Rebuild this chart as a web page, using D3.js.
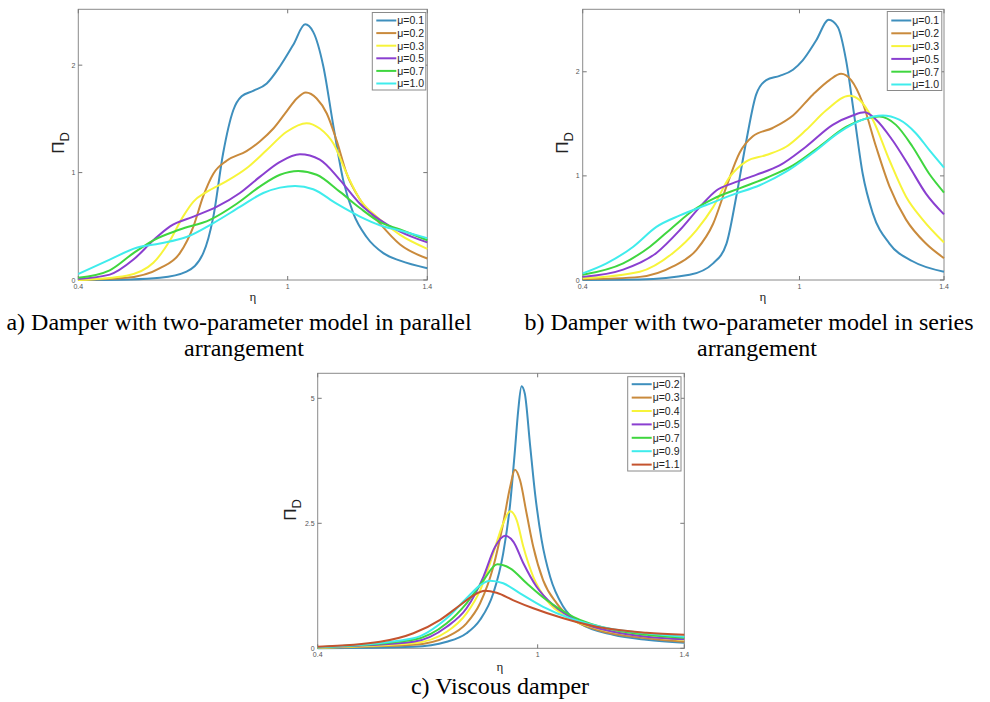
<!DOCTYPE html>
<html>
<head>
<meta charset="utf-8">
<script src="https://cdn.jsdelivr.net/npm/d3@7"></script>
<style>
  html, body { margin: 0; padding: 0; background: #fff; }
  svg { display: block; }
</style>
</head>
<body>
<svg id="chart" width="990" height="702"></svg>
<script>
// ---------------- DATA ----------------
const xTicks = [0.4, 1, 1.4];
const xTickLabels = ["0.4", "1", "1.4"];

// Panel a: parallel arrangement
const legendA = ["μ=0.1", "μ=0.2", "μ=0.3", "μ=0.5", "μ=0.7", "μ=1.0"];
const yTicksA = [0, 1, 2];
const a_mu01 = [[0.4,0],[0.55,0.005],[0.634,0.02],[0.71,0.078],[0.758,0.25],[0.787,0.59],[0.815,1.18],[0.844,1.58],[0.868,1.71],[0.901,1.76],[0.94,1.83],[0.978,1.99],[1.016,2.19],[1.05,2.38],[1.073,2.31],[1.102,1.99],[1.131,1.43],[1.159,0.93],[1.188,0.62],[1.226,0.40],[1.274,0.25],[1.322,0.18],[1.4,0.11]];
const a_mu02 = [[0.4,0],[0.538,0.02],[0.634,0.11],[0.691,0.25],[0.73,0.50],[0.758,0.78],[0.787,0.99],[0.825,1.11],[0.882,1.20],[0.92,1.29],[0.959,1.41],[0.997,1.57],[1.026,1.69],[1.052,1.745],[1.083,1.69],[1.112,1.55],[1.14,1.30],[1.169,0.99],[1.207,0.75],[1.255,0.56],[1.322,0.33],[1.4,0.2]];
const a_mu03 = [[0.4,0],[0.538,0.04],[0.615,0.16],[0.663,0.37],[0.7,0.59],[0.73,0.73],[0.768,0.82],[0.825,0.92],[0.882,1.04],[0.94,1.21],[0.997,1.38],[1.054,1.46],[1.092,1.41],[1.131,1.27],[1.169,0.99],[1.207,0.75],[1.255,0.59],[1.322,0.42],[1.4,0.29]];
const a_mu05 = [[0.4,0.01],[0.49,0.05],[0.558,0.19],[0.615,0.37],[0.663,0.50],[0.73,0.59],[0.796,0.68],[0.863,0.81],[0.92,0.96],[0.978,1.10],[1.035,1.17],[1.092,1.12],[1.15,0.93],[1.207,0.71],[1.264,0.56],[1.322,0.45],[1.4,0.35]];
const a_mu07 = [[0.4,0.02],[0.49,0.09],[0.558,0.25],[0.615,0.37],[0.691,0.47],[0.777,0.56],[0.854,0.71],[0.92,0.87],[0.978,0.98],[1.03,1.015],[1.083,0.98],[1.15,0.82],[1.207,0.67],[1.264,0.54],[1.322,0.47],[1.4,0.37]];
const a_mu10 = [[0.4,0.056],[0.49,0.19],[0.567,0.30],[0.634,0.34],[0.71,0.40],[0.787,0.53],[0.863,0.68],[0.93,0.81],[0.978,0.86],[1.021,0.876],[1.073,0.845],[1.14,0.71],[1.207,0.59],[1.264,0.51],[1.322,0.46],[1.4,0.39]];

// Panel b: series arrangement
const legendB = ["μ=0.1", "μ=0.2", "μ=0.3", "μ=0.5", "μ=0.7", "μ=1.0"];
const yTicksB = [0, 1, 2];
const b_mu01 = [[0.4,0],[0.558,0.005],[0.696,0.05],[0.761,0.16],[0.798,0.35],[0.825,0.80],[0.853,1.34],[0.88,1.78],[0.908,1.92],[0.945,1.96],[0.982,2.02],[1.009,2.11],[1.046,2.30],[1.081,2.50],[1.106,2.43],[1.129,2.11],[1.152,1.57],[1.175,1.02],[1.203,0.64],[1.249,0.35],[1.313,0.18],[1.4,0.08]];
const b_mu02 = [[0.4,0.006],[0.558,0.03],[0.65,0.13],[0.715,0.29],[0.761,0.54],[0.798,0.90],[0.834,1.22],[0.871,1.38],[0.926,1.46],[0.982,1.58],[1.037,1.78],[1.083,1.92],[1.115,1.98],[1.143,1.92],[1.175,1.70],[1.212,1.28],[1.249,0.90],[1.295,0.58],[1.35,0.35],[1.4,0.21]];
const b_mu03 = [[0.4,0.016],[0.558,0.08],[0.65,0.26],[0.715,0.48],[0.761,0.70],[0.807,0.99],[0.853,1.14],[0.908,1.20],[0.963,1.28],[1.018,1.44],[1.074,1.63],[1.138,1.77],[1.166,1.73],[1.203,1.54],[1.249,1.15],[1.295,0.80],[1.341,0.58],[1.4,0.36]];
const b_mu05 = [[0.4,0.03],[0.512,0.10],[0.604,0.26],[0.669,0.48],[0.724,0.70],[0.77,0.86],[0.816,0.93],[0.88,1.01],[0.945,1.10],[1.018,1.28],[1.092,1.49],[1.147,1.58],[1.18,1.61],[1.212,1.54],[1.258,1.34],[1.304,1.09],[1.35,0.83],[1.4,0.63]];
const b_mu07 = [[0.4,0.05],[0.512,0.16],[0.586,0.32],[0.65,0.51],[0.706,0.67],[0.761,0.78],[0.834,0.88],[0.908,0.98],[0.982,1.10],[1.055,1.28],[1.129,1.47],[1.184,1.55],[1.221,1.57],[1.267,1.49],[1.313,1.28],[1.359,1.02],[1.4,0.84]];
const b_mu10 = [[0.4,0.064],[0.466,0.16],[0.54,0.32],[0.604,0.51],[0.669,0.62],[0.742,0.72],[0.816,0.82],[0.89,0.91],[0.963,1.04],[1.037,1.22],[1.111,1.42],[1.175,1.54],[1.23,1.58],[1.276,1.54],[1.322,1.41],[1.359,1.25],[1.4,1.08]];

// Panel c: viscous damper
const legendC = ["μ=0.2", "μ=0.3", "μ=0.4", "μ=0.5", "μ=0.7", "μ=0.9", "μ=1.1"];
const yTicksC = [0, 2.5, 5];
const yTickLabelsC = ["0", "2.5", "5"];
const c_mu02 = [[0.4,0],[0.661,0.03],[0.752,0.13],[0.806,0.30],[0.843,0.57],[0.879,1.10],[0.906,1.90],[0.925,2.89],[0.938,3.96],[0.947,4.76],[0.956,5.24],[0.965,5.09],[0.979,4.09],[0.993,3.09],[1.011,2.16],[1.034,1.43],[1.07,0.83],[1.115,0.50],[1.206,0.27],[1.297,0.17],[1.4,0.11]];
const c_mu03 = [[0.4,0.01],[0.661,0.07],[0.752,0.23],[0.806,0.50],[0.843,0.90],[0.879,1.63],[0.906,2.50],[0.925,3.23],[0.938,3.57],[0.952,3.36],[0.97,2.69],[0.988,2.03],[1.015,1.36],[1.052,0.90],[1.097,0.57],[1.161,0.37],[1.297,0.20],[1.4,0.13]];
const c_mu04 = [[0.4,0.013],[0.661,0.10],[0.752,0.33],[0.806,0.70],[0.843,1.16],[0.879,1.90],[0.906,2.50],[0.925,2.74],[0.943,2.56],[0.961,2.03],[0.988,1.43],[1.025,0.96],[1.079,0.63],[1.161,0.40],[1.297,0.23],[1.4,0.17]];
const c_mu05 = [[0.4,0.02],[0.661,0.13],[0.752,0.43],[0.806,0.80],[0.852,1.43],[0.884,2.03],[0.911,2.25],[0.934,2.13],[0.961,1.70],[0.997,1.23],[1.043,0.86],[1.115,0.53],[1.206,0.33],[1.297,0.23],[1.4,0.18]];
const c_mu07 = [[0.4,0.02],[0.661,0.17],[0.752,0.50],[0.806,0.90],[0.852,1.36],[0.89,1.68],[0.925,1.60],[0.97,1.30],[1.025,0.96],[1.097,0.63],[1.206,0.37],[1.297,0.27],[1.4,0.21]];
const c_mu09 = [[0.4,0.02],[0.661,0.20],[0.752,0.60],[0.806,1.00],[0.843,1.26],[0.87,1.35],[0.906,1.30],[0.952,1.10],[1.015,0.83],[1.088,0.60],[1.206,0.38],[1.297,0.30],[1.4,0.23]];
const c_mu11 = [[0.4,0.03],[0.57,0.13],[0.661,0.30],[0.734,0.57],[0.788,0.86],[0.825,1.06],[0.856,1.15],[0.888,1.11],[0.934,0.96],[0.988,0.80],[1.07,0.60],[1.161,0.43],[1.297,0.31],[1.4,0.27]];

const captionA = ["a) Damper with two-parameter model in parallel", "arrangement"];
const captionB = ["b) Damper with two-parameter model in series", "arrangement"];
const captionC = ["c) Viscous damper"];

// ---------------- STYLE ----------------
const colors6 = ["#3e8fbd", "#c98a3c", "#f7f43a", "#8a3fd0", "#3fd63f", "#3fecec"];
const colors7 = ["#3e8fbd", "#c98a3c", "#f7f43a", "#8a3fd0", "#3fd63f", "#3fecec", "#c4532e"];

const svg = d3.select("#chart");

function drawPanel(cfg) {
  const g = svg.append("g");
  const x = d3.scaleLinear().domain([0.4, 1.4]).range([cfg.left, cfg.right]);
  const y = d3.scaleLinear().domain(cfg.yDomain).range([cfg.bottom, cfg.top]);

  // box
  g.append("rect")
    .attr("x", cfg.left).attr("y", cfg.top)
    .attr("width", cfg.right - cfg.left).attr("height", cfg.bottom - cfg.top)
    .attr("fill", "#fff").attr("stroke", "#8a8a8a").attr("stroke-width", 1);

  // ticks (inward, mirrored)
  const tl = 4;
  cfg.yTicks.forEach(t => {
    g.append("line").attr("x1", cfg.left).attr("x2", cfg.left + tl).attr("y1", y(t)).attr("y2", y(t)).attr("stroke", "#777");
    g.append("line").attr("x1", cfg.right).attr("x2", cfg.right - tl).attr("y1", y(t)).attr("y2", y(t)).attr("stroke", "#777");
  });
  xTicks.forEach(t => {
    g.append("line").attr("y1", cfg.bottom).attr("y2", cfg.bottom - tl).attr("x1", x(t)).attr("x2", x(t)).attr("stroke", "#777");
    g.append("line").attr("y1", cfg.top).attr("y2", cfg.top + tl).attr("x1", x(t)).attr("x2", x(t)).attr("stroke", "#777");
  });

  // tick labels
  cfg.yTicks.forEach((t, i) => {
    g.append("text").attr("x", cfg.left - 3).attr("y", y(t) + 2.5)
      .attr("text-anchor", "end").attr("font-family", "Liberation Sans, Arial, sans-serif")
      .attr("font-size", 7).attr("fill", "#555").text(cfg.yTickLabels ? cfg.yTickLabels[i] : String(t));
  });
  xTicks.forEach((t, i) => {
    g.append("text").attr("x", x(t)).attr("y", cfg.bottom + 9)
      .attr("text-anchor", "middle").attr("font-family", "Liberation Sans, Arial, sans-serif")
      .attr("font-size", 7).attr("fill", "#555").text(xTickLabels[i]);
  });

  // lines
  const line = d3.line().x(d => x(d[0])).y(d => y(d[1])).curve(d3.curveMonotoneX);
  cfg.series.forEach((s, i) => {
    g.append("path").datum(s).attr("d", line)
      .attr("fill", "none").attr("stroke", cfg.colors[i]).attr("stroke-width", 2);
  });

  // legend
  const L = cfg.legend;
  g.append("rect").attr("x", L.x).attr("y", L.y).attr("width", L.w).attr("height", L.h)
    .attr("fill", "#fff").attr("stroke", "#8a8a8a").attr("stroke-width", 1);
  cfg.labels.forEach((lab, i) => {
    const yy = L.y + L.first + i * L.step;
    g.append("line").attr("x1", L.x + 4).attr("x2", L.x + 24).attr("y1", yy).attr("y2", yy)
      .attr("stroke", cfg.colors[i]).attr("stroke-width", 2);
    g.append("text").attr("x", L.x + 25).attr("y", yy + 3.8)
      .attr("font-family", "Liberation Sans, Arial, sans-serif").attr("font-size", 10.5)
      .attr("fill", "#222").text(lab);
  });

  // axis labels
  g.append("text").attr("x", cfg.xlab[0]).attr("y", cfg.xlab[1])
    .attr("text-anchor", "middle").attr("font-family", "Liberation Serif, serif")
    .attr("font-size", 13).attr("fill", "#222").text("η");
  const yl = g.append("text").attr("transform", `translate(${cfg.ylab[0]},${cfg.ylab[1]}) rotate(-90)`)
    .attr("text-anchor", "middle").attr("font-family", "Liberation Sans, Arial, sans-serif")
    .attr("font-size", 17).attr("fill", "#222");
  yl.append("tspan").text("Π");
  yl.append("tspan").attr("dy", 5).attr("font-size", 13).text("D");

  // caption
  cfg.caption.forEach((c, i) => {
    svg.append("text").attr("x", cfg.capX[i]).attr("y", cfg.capY[i])
      .attr("text-anchor", "middle").attr("font-family", "Liberation Serif, 'Times New Roman', serif")
      .attr("font-size", 24).attr("fill", "#000").text(c);
  });
}

drawPanel({
  left: 78.3, right: 427.3, top: 9.3, bottom: 280, yDomain: [0, 2.52], yTicks: yTicksA,
  series: [a_mu01, a_mu02, a_mu03, a_mu05, a_mu07, a_mu10], colors: colors6, labels: legendA,
  legend: { x: 372.3, y: 12.5, w: 53.5, h: 77.5, first: 8, step: 12.6 },
  xlab: [253, 301], ylab: [64, 143],
  caption: captionA, capX: [239, 244], capY: [330, 356]
});

drawPanel({
  left: 582.7, right: 944, top: 9.3, bottom: 280, yDomain: [0, 2.6], yTicks: yTicksB,
  series: [b_mu01, b_mu02, b_mu03, b_mu05, b_mu07, b_mu10], colors: colors6, labels: legendB,
  legend: { x: 887.3, y: 11.5, w: 54.5, h: 79, first: 9, step: 12.8 },
  xlab: [763, 301], ylab: [568, 143],
  caption: captionB, capX: [749, 757], capY: [330, 356]
});

drawPanel({
  left: 317.7, right: 684.3, top: 373.3, bottom: 648.3, yDomain: [0, 5.5], yTicks: yTicksC, yTickLabels: yTickLabelsC,
  series: [c_mu02, c_mu03, c_mu04, c_mu05, c_mu07, c_mu09, c_mu11], colors: colors7, labels: legendC,
  legend: { x: 627.7, y: 376.7, w: 53.3, h: 94.3, first: 7.5, step: 13.4 },
  xlab: [500, 671], ylab: [296, 510],
  caption: captionC, capX: [500], capY: [694]
});
</script>
</body>
</html>
